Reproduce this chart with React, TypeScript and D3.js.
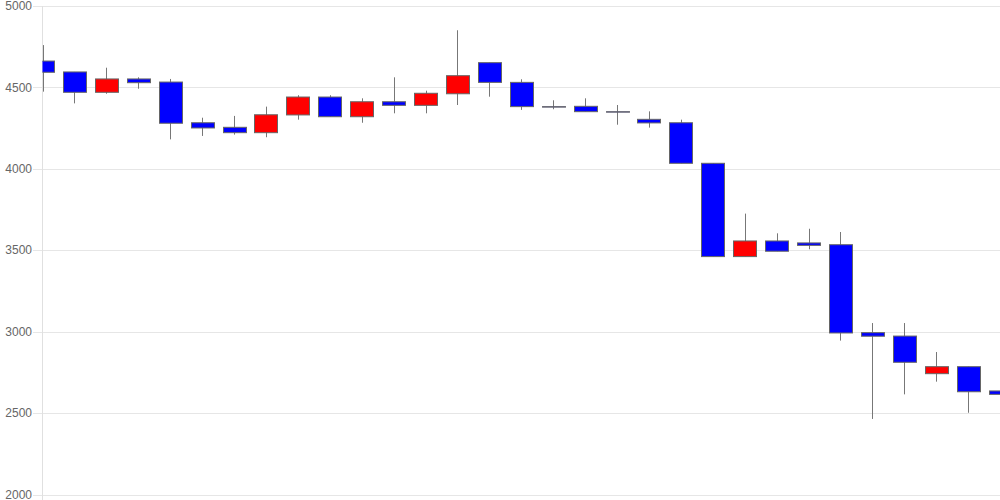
import { useEffect, useRef } from "react";
import * as d3 from "d3";

// daily candles (index 0 = oldest)
const opens = [4662, 4595, 4470, 4552, 4533, 4283, 4255, 4222, 4331, 4441, 4320, 4412, 4390, 4461, 4652, 4531, 4382, 4384, 4351, 4304, 4283, 4034, 3461, 3557, 3545, 3534, 2994, 2973, 2742, 2785, 2636];
const closes = [4593, 4470, 4552, 4529, 4280, 4251, 4222, 4332, 4441, 4320, 4412, 4390, 4464, 4572, 4531, 4382, 4382, 4351, 4351, 4282, 4034, 3461, 3557, 3494, 3530, 2992, 2972, 2812, 2785, 2631, 2615];
const highs = [4760, 4595, 4621, 4562, 4552, 4314, 4325, 4382, 4452, 4452, 4433, 4562, 4480, 4851, 4652, 4550, 4421, 4433, 4392, 4353, 4302, 4034, 3725, 3604, 3632, 3612, 3053, 3053, 2875, 2785, 2752];
const lows = [4474, 4402, 4461, 4492, 4181, 4202, 4210, 4194, 4302, 4320, 4283, 4341, 4341, 4392, 4443, 4362, 4366, 4351, 4271, 4253, 4034, 3461, 3461, 3494, 3506, 2945, 2464, 2615, 2693, 2502, 2585];
const yTicks = [2000, 2500, 3000, 3500, 4000, 4500, 5000];

const App = () => {
  const svgRef = useRef<SVGSVGElement>(null);

  useEffect(() => {
    const width = 1000,
      height = 500;
    const left = 42.5,
      right = 1000,
      top = 6,
      bottom = 494.5;

    const svg = d3.select(svgRef.current);
    svg.selectAll("*").remove();

    const x = d3.scaleLinear().domain([0, opens.length - 1]).range([left, right]);
    const y = d3.scaleLinear().domain([2000, 5000]).range([bottom, top]);

    // clip to plot area
    svg.append("defs")
      .append("clipPath")
      .attr("id", "plot-clip")
      .append("rect")
      .attr("x", left)
      .attr("y", 0)
      .attr("width", right - left)
      .attr("height", height);

    // grid lines + labels
    const grid = svg.append("g");
    grid.selectAll("line")
      .data(yTicks)
      .enter()
      .append("line")
      .attr("x1", 33)
      .attr("x2", width)
      .attr("y1", (d) => Math.round(y(d)) + 0.5)
      .attr("y2", (d) => Math.round(y(d)) + 0.5)
      .attr("stroke", "#e6e6e6")
      .attr("stroke-width", 1);

    grid.selectAll("text")
      .data(yTicks)
      .enter()
      .append("text")
      .attr("x", 32)
      .attr("y", (d) => y(d))
      .attr("dy", "0.35em")
      .attr("text-anchor", "end")
      .style("font-family", "Arial, 'Liberation Sans', sans-serif")
      .style("font-size", "12px")
      .style("fill", "#666")
      .text((d) => d);

    // left axis line
    svg.append("line")
      .attr("x1", left)
      .attr("x2", left)
      .attr("y1", top)
      .attr("y2", height)
      .attr("stroke", "#e0e0e0");

    const bw = 23;
    const candles = svg.append("g").attr("clip-path", "url(#plot-clip)");
    const idx = d3.range(opens.length);

    // wicks
    candles.selectAll(".wick")
      .data(idx)
      .enter()
      .append("line")
      .attr("class", "wick")
      .attr("x1", (i) => Math.round(x(i)) + 0.5)
      .attr("x2", (i) => Math.round(x(i)) + 0.5)
      .attr("y1", (i) => y(highs[i]))
      .attr("y2", (i) => y(lows[i]))
      .attr("stroke", "#777")
      .attr("stroke-width", 1);

    // bodies
    candles.selectAll(".body")
      .data(idx)
      .enter()
      .append("rect")
      .attr("class", "body")
      .attr("x", (i) => Math.round(x(i) - bw / 2) + 0.5)
      .attr("y", (i) => y(Math.max(opens[i], closes[i])))
      .attr("width", bw)
      .attr("height", (i) => Math.max(0.5, Math.abs(y(opens[i]) - y(closes[i]))))
      .attr("fill", (i) => (closes[i] > opens[i] ? "#ff0000" : "#0000ff"))
      .attr("stroke", "#666")
      .attr("stroke-width", 1);
  }, []);

  return (
    <svg
      ref={svgRef}
      width={1000}
      height={500}
      style={{ position: "absolute", left: 0, top: 0, background: "#fff" }}
    ></svg>
  );
};

export default App;
